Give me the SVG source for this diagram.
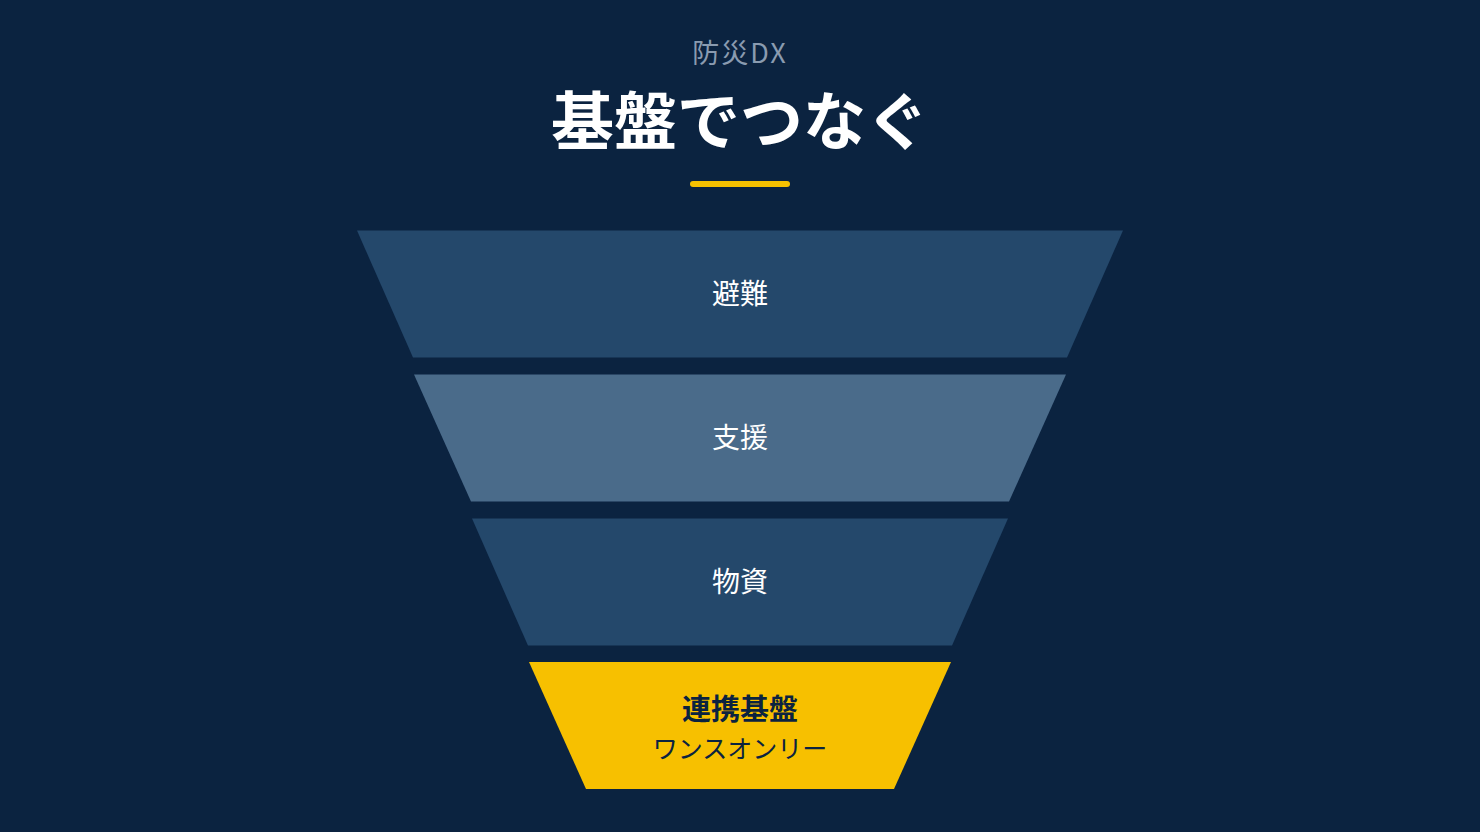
<svg xmlns="http://www.w3.org/2000/svg" width="1480" height="832" viewBox="0 0 1480 832">
<style>
.lbl{font-family:"Noto Sans CJK JP","Noto Sans",sans-serif;font-size:28px;fill:#ffffff;text-anchor:middle;dominant-baseline:central;font-weight:400}
.dark{fill:#24486b}
.mid{fill:#4a6b8a}
</style>
<rect width="1480" height="832" fill="#0b2340"/>
<g id="header">
<text x="740" y="51" font-family="Noto Sans CJK JP, Noto Sans, sans-serif" font-size="27" fill="#8a9bb0" text-anchor="middle" dominant-baseline="central" letter-spacing="2">防災DX</text>
<text x="740" y="116" font-family="Noto Sans CJK JP, Noto Sans, sans-serif" font-size="63" font-weight="700" fill="#ffffff" text-anchor="middle" dominant-baseline="central">基盤でつなぐ</text>
<rect x="690" y="181" width="100" height="6" rx="3" fill="#f5c000"/>
</g>
<g id="layer1">
<polygon class="dark" points="357,230.5 1123,230.5 1067,357.5 413,357.5"/>
<text class="lbl" x="740" y="292">避難</text>
</g>
<g id="layer2">
<polygon class="mid" points="414,374.5 1066,374.5 1009,501.5 471,501.5"/>
<text class="lbl" x="740" y="436">支援</text>
</g>
<g id="layer3">
<polygon class="dark" points="472,518.5 1008,518.5 952,645.5 528,645.5"/>
<text class="lbl" x="740" y="580">物資</text>
</g>
<g id="layer4">
<polygon fill="#f7c000" points="529,662 951,662 894,789 586,789"/>
<text x="740" y="707" font-family="Noto Sans CJK JP, Noto Sans, sans-serif" font-size="29" font-weight="700" fill="#0b2340" text-anchor="middle" dominant-baseline="central">連携基盤</text>
<text x="740" y="747" font-family="Noto Sans CJK JP, Noto Sans, sans-serif" font-size="25" fill="#0b2340" text-anchor="middle" dominant-baseline="central">ワンスオンリー</text>
</g>
<g id="connectors"></g>
</svg>
